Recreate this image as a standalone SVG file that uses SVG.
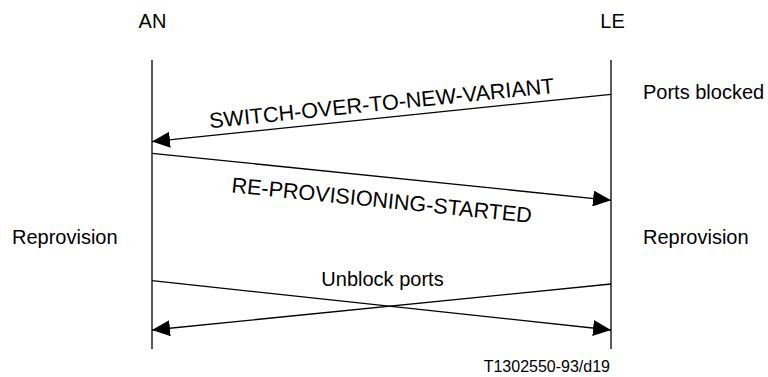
<svg xmlns="http://www.w3.org/2000/svg" width="768" height="377" viewBox="0 0 768 377">
<style>
text{font-family:"Liberation Sans",Arial,sans-serif;font-size:20px;fill:#000}
.ll{stroke:#000;stroke-width:1.3;fill:none}
.msg{stroke:#000;stroke-width:1.3;fill:none;marker-end:url(#ah)}
.big{font-size:21.6px}
.small{font-size:16px}
</style>
<defs>
<marker id="ah" markerUnits="userSpaceOnUse" viewBox="0 0 18 16" markerWidth="18" markerHeight="16" refX="18" refY="8" orient="auto">
<path d="M0,0 L18,8 L0,16 Z" fill="#000"/>
</marker>
</defs>
<rect width="768" height="377" fill="#fff"/>
<g id="AN">
<text x="152.5" y="28" text-anchor="middle">AN</text>
<line class="ll" x1="152" y1="60" x2="152" y2="349"/>
</g>
<g id="LE">
<text x="612.5" y="28" text-anchor="middle">LE</text>
<line class="ll" x1="611" y1="60" x2="611" y2="349"/>
</g>
<g id="notes">
<text x="643" y="99">Ports blocked</text>
<text x="12" y="244">Reprovision</text>
<text x="643" y="244">Reprovision</text>
</g>
<g id="connectors">
<line class="msg" x1="611" y1="94.3" x2="152" y2="141.6"/>
<line class="msg" x1="152" y1="153.3" x2="611" y2="200.3"/>
<line class="msg" x1="152" y1="280.7" x2="611" y2="330"/>
<line class="msg" x1="611" y1="284" x2="152" y2="330"/>
</g>
<g id="labels">
<text class="big" x="382.5" y="110.5" text-anchor="middle" transform="rotate(-5.85 382.5 110.5)">SWITCH-OVER-TO-NEW-VARIANT</text>
<text class="big" x="381" y="207.5" text-anchor="middle" transform="rotate(5.85 381 207.5)">RE-PROVISIONING-STARTED</text>
<text x="382.5" y="285.5" text-anchor="middle">Unblock ports</text>
</g>
<text class="small" x="610" y="371.5" text-anchor="end">T1302550-93/d19</text>
</svg>
